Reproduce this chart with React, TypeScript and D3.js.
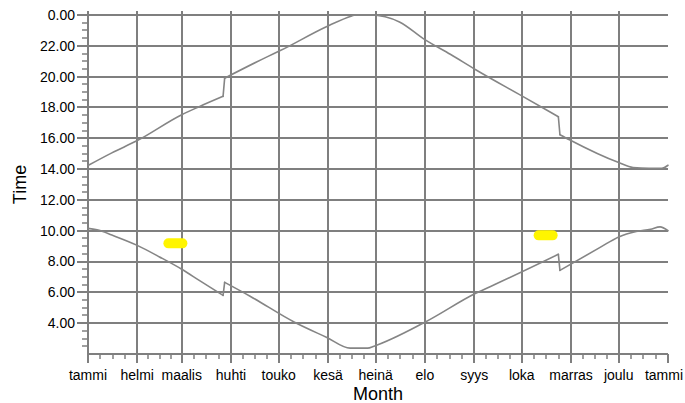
import React from 'react';
import * as d3 from 'd3';

const monthLabels = ['tammi', 'helmi', 'maalis', 'huhti', 'touko', 'kesä', 'heinä', 'elo', 'syys', 'loka', 'marras', 'joulu', 'tammi'];
const yMajorTicks = [4, 6, 8, 10, 12, 14, 16, 18, 20, 22, 24];

const sunriseDates = ['2009-01-01', '2009-01-08', '2009-01-16', '2009-02-01', '2009-02-15', '2009-03-01', '2009-03-12', '2009-03-27', '2009-03-28', '2009-04-13', '2009-05-11', '2009-05-31', '2009-06-15', '2009-06-26', '2009-06-30', '2009-08-01', '2009-09-02', '2009-09-17', '2009-10-24', '2009-10-25', '2009-11-19', '2009-12-01', '2009-12-12', '2009-12-21', '2009-12-27', '2010-01-01'];
const sunriseValues = [10.15, 10.03, 9.72, 9.05, 8.3, 7.5, 6.78, 5.8, 6.65, 5.75, 4.06, 3.09, 2.38, 2.38, 2.51, 4.06, 5.94, 6.65, 8.47, 7.43, 8.9, 9.6, 9.95, 10.1, 10.25, 10.0];

const sunsetDates = ['2009-01-01', '2009-01-16', '2009-02-01', '2009-03-01', '2009-03-12', '2009-03-27', '2009-03-28', '2009-04-24', '2009-05-02', '2009-05-31', '2009-06-16', '2009-06-18', '2009-06-28', '2009-07-16', '2009-08-01', '2009-08-17', '2009-09-02', '2009-10-01', '2009-10-24', '2009-10-25', '2009-10-31', '2009-12-01', '2009-12-10', '2009-12-20', '2009-12-28', '2010-01-01'];
const sunsetValues = [14.23, 15.05, 15.85, 17.53, 18.05, 18.72, 19.9, 21.3, 21.69, 23.24, 23.94, 24.0, 24.0, 23.55, 22.4, 21.45, 20.45, 18.75, 17.4, 16.23, 15.9, 14.42, 14.1, 14.05, 14.05, 14.25];

const highlightDates = ['2009-02-25', '2009-10-16'];
const highlightValues = [9.18, 9.7];

const parse = d3.utcParse('%Y-%m-%d');

type Pt = [Date, number];

export default function App() {
  const W = 685;
  const H = 403;
  const start = parse('2009-01-01') as Date;
  const end = parse('2010-01-01') as Date;
  const x = d3.scaleUtc().domain([start, end]).range([88, 668]);
  const y = d3.scaleLinear().domain([2, 24]).range([354, 15]);
  const months = d3.utcMonth.range(start, d3.utcDay.offset(end, 1));

  const gridColor = '#7f7f7f';
  const font = '"Liberation Sans", Arial, Helvetica, sans-serif';

  const minorX: number[] = [];
  for (let i = 0; i < months.length - 1; i++) {
    const a = x(months[i]);
    const b = x(months[i + 1]);
    for (let k = 1; k <= 3; k++) minorX.push(a + ((b - a) * k) / 4);
  }
  const minorY = d3.range(2.5, 24, 0.5).filter((v) => v % 2 !== 0);

  const smooth = d3
    .line<Pt>()
    .x((d) => x(d[0]))
    .y((d) => y(d[1]))
    .curve(d3.curveMonotoneX);
  const straight = d3
    .line<Pt>()
    .x((d) => x(d[0]))
    .y((d) => y(d[1]));

  // split series at the one-day clock-shift jumps: smooth pieces + straight jump segments
  const buildPaths = (pts: Pt[]) => {
    const out: string[] = [];
    let seg: Pt[] = [pts[0]];
    for (let i = 1; i < pts.length; i++) {
      const gap = (+pts[i][0] - +pts[i - 1][0]) / 86400000;
      if (gap <= 1.01) {
        out.push(smooth(seg) || '');
        out.push(straight([pts[i - 1], pts[i]]) || '');
        seg = [pts[i]];
      } else {
        seg.push(pts[i]);
      }
    }
    out.push(smooth(seg) || '');
    return out;
  };

  const sunrise: Pt[] = sunriseDates.map((d, i) => [parse(d) as Date, sunriseValues[i]]);
  const sunset: Pt[] = sunsetDates.map((d, i) => [parse(d) as Date, sunsetValues[i]]);
  const paths = [...buildPaths(sunset), ...buildPaths(sunrise)];

  const r = (v: number) => Math.round(v);
  const x0 = x.range()[0];
  const x1 = x.range()[1];
  const yBottom = y(2);
  const yTop = y(24);

  return (
    <svg width={W} height={H} style={{ position: 'absolute', left: 0, top: 0, background: '#fff' }} fontFamily={font}>
      <rect x={0} y={0} width={W} height={H} fill="#fff" />
      {yMajorTicks.map((v) => (
        <line key={'h' + v} x1={x0 - 11} x2={x1} y1={r(y(v))} y2={r(y(v))} stroke={gridColor} strokeWidth={2} />
      ))}
      {minorY.map((v) => (
        <line key={'my' + v} x1={x0 - 6} x2={x0} y1={r(y(v))} y2={r(y(v))} stroke={gridColor} strokeWidth={1.5} />
      ))}
      {months.slice(0, 12).map((m, i) => (
        <line key={'v' + i} x1={r(x(m))} x2={r(x(m))} y1={r(yTop) - 4} y2={r(yBottom) + 9} stroke={gridColor} strokeWidth={2} />
      ))}
      <line x1={r(x(months[12]))} x2={r(x(months[12]))} y1={r(yBottom)} y2={r(yBottom) + 9} stroke={gridColor} strokeWidth={2} />
      {minorX.map((v, i) => (
        <line key={'mx' + i} x1={r(v)} x2={r(v)} y1={r(yBottom)} y2={r(yBottom) + 5} stroke={gridColor} strokeWidth={1.5} />
      ))}
      <line x1={x0} x2={x1} y1={r(yBottom)} y2={r(yBottom)} stroke={gridColor} strokeWidth={2} />

      {paths.map((d, i) => (
        <path key={'p' + i} d={d} fill="none" stroke="#858585" strokeWidth={1.6} strokeLinecap="round" />
      ))}

      {highlightDates.map((d, i) => (
        <rect
          key={'hl' + i}
          x={x(parse(d) as Date) - 12}
          y={y(highlightValues[i]) - 5}
          width={24}
          height={10}
          rx={5}
          ry={5}
          fill="#fff500"
        />
      ))}

      {yMajorTicks.map((v) => (
        <text key={'yl' + v} x={75} y={y(v)} dy="0.35em" textAnchor="end" fontSize={14} fill="#000">
          {(v % 24).toFixed(2)}
        </text>
      ))}
      {months.map((m, i) => {
        const last = i === months.length - 1;
        return (
          <text
            key={'xl' + i}
            x={last ? W - 2 : x(m)}
            y={380}
            textAnchor={last ? 'end' : 'middle'}
            fontSize={14}
            fill="#000"
          >
            {monthLabels[i]}
          </text>
        );
      })}
      <text x={(x0 + x1) / 2} y={400} textAnchor="middle" fontSize={18} fill="#000">
        Month
      </text>
      <text transform={`translate(26, ${(yTop + yBottom) / 2}) rotate(-90)`} textAnchor="middle" fontSize={18} fill="#000">
        Time
      </text>
    </svg>
  );
}
